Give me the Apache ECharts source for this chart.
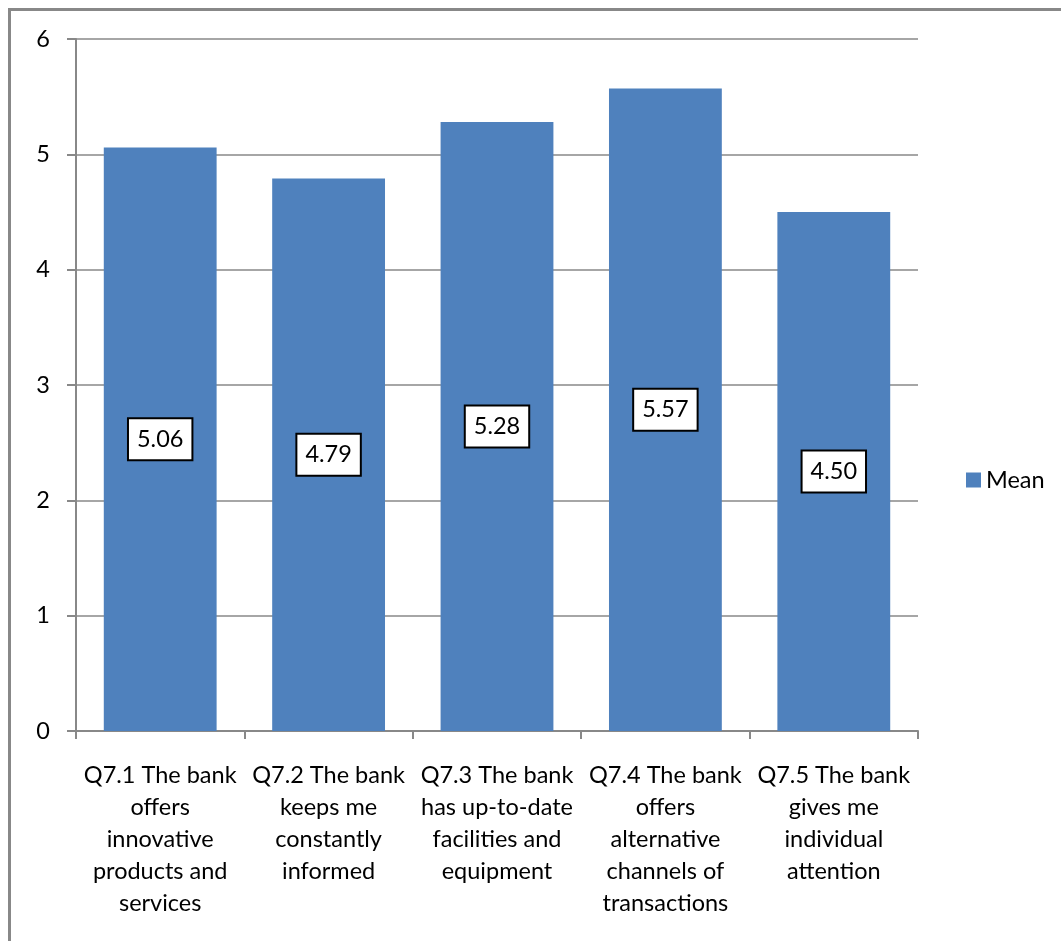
<!DOCTYPE html>
<html>
<head>
<meta charset="utf-8">
<script src="https://cdn.jsdelivr.net/npm/echarts@6/dist/echarts.min.js"></script>
<style>
html,body{margin:0;padding:0;background:#fff;}
#chart{width:1061px;height:941px;}
</style>
</head>
<body>
<div id="chart"></div>
<script>
const categories = [
  "Q7.1 The bank\noffers\ninnovative\nproducts and\nservices",
  "Q7.2 The bank\nkeeps me\nconstantly\ninformed",
  "Q7.3 The bank\nhas up-to-date\nfacilities and\nequipment",
  "Q7.4 The bank\noffers\nalternative\nchannels of\ntransactions",
  "Q7.5 The bank\ngives me\nindividual\nattention"
];
const meanValues = [5.06, 4.79, 5.28, 5.57, 4.50];
const seriesName = "Mean";
const yMin = 0, yMax = 6, yInterval = 1;

const FONT = "Lato, 'Open Sans', sans-serif";
const FS = 23.5;
const chart = echarts.init(document.getElementById('chart'));
chart.setOption({
  animation: false,
  backgroundColor: '#fff',
  graphic: [{
    type: 'rect',
    shape: { x: 9.5, y: 9.5, width: 1100, height: 1000 },
    style: { fill: 'none', stroke: '#888', lineWidth: 3 },
    silent: true
  }],
  grid: { left: 76, right: 143, top: 39, bottom: 210, containLabel: false },
  legend: {
    data: [seriesName],
    left: 961, top: 463,
    itemWidth: 15, itemHeight: 15, itemGap: 8,
    icon: 'rect',
    textStyle: { fontFamily: FONT, fontSize: FS, color: '#000' }
  },
  xAxis: {
    type: 'category',
    data: categories,
    axisLine: { lineStyle: { color: '#888', width: 2 } },
    axisTick: { show: true, length: 8, inside: false, lineStyle: { color: '#888', width: 2 } },
    axisLabel: { interval: 0, margin: 28, fontFamily: FONT, fontSize: FS, color: '#000', lineHeight: 32, align: 'center' }
  },
  yAxis: {
    type: 'value',
    min: yMin, max: yMax, interval: yInterval,
    axisLine: { show: true, lineStyle: { color: '#888', width: 2 } },
    axisTick: { show: true, length: 9, lineStyle: { color: '#888', width: 2 } },
    axisLabel: { margin: 26, fontFamily: FONT, fontSize: FS, color: '#000' },
    splitLine: { show: true, lineStyle: { color: '#888', width: 1.5 } }
  },
  series: [{
    name: seriesName,
    type: 'bar',
    data: meanValues,
    barCategoryGap: '33%',
    itemStyle: { color: '#4F81BD' },
    label: {
      show: true,
      position: 'inside',
      formatter: p => p.value.toFixed(2),
      fontFamily: FONT, fontSize: FS, color: '#000',
      backgroundColor: '#fff', borderColor: '#000', borderWidth: 2,
      padding: [8, 8, 7, 8], lineHeight: 25
    }
  }]
});
</script>
</body>
</html>
